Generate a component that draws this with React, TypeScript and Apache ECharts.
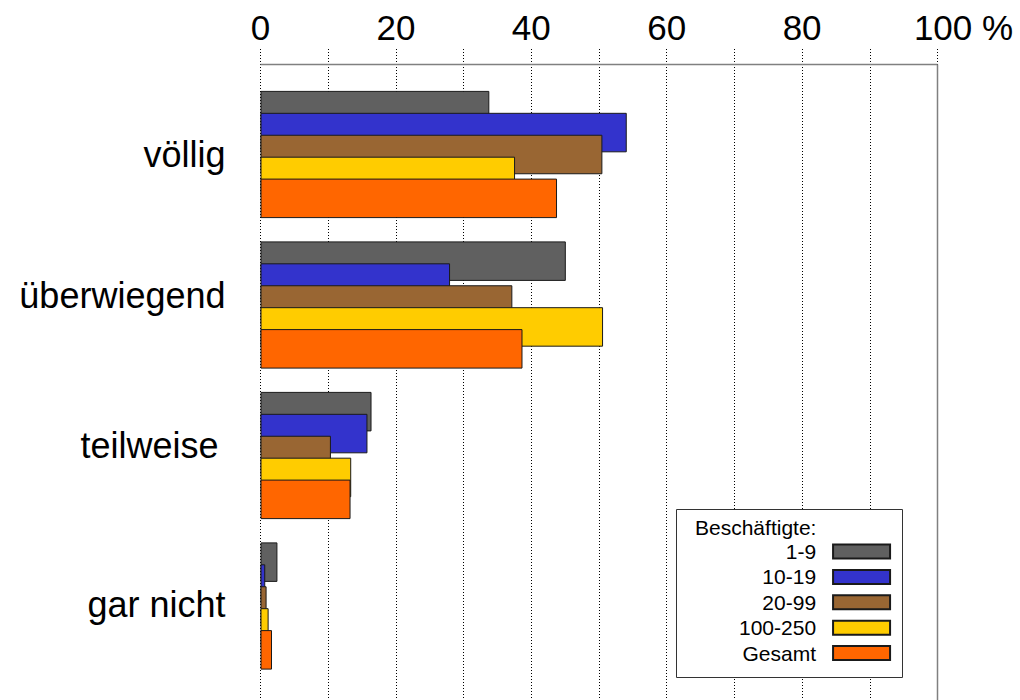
import React, { useEffect, useRef } from "react";
import * as echarts from "echarts";

const categories = ["völlig", "überwiegend", "teilweise", "gar nicht"];
const seriesNames = ["1-9", "10-19", "20-99", "100-250", "Gesamt"];
const values1to9 = [33.8, 45.1, 16.4, 2.5];
const values10to19 = [54.1, 28.0, 15.8, 0.7];
const values20to99 = [50.5, 37.2, 10.4, 0.9];
const values100to250 = [37.6, 50.6, 13.4, 1.2];
const valuesGesamt = [43.8, 38.7, 13.3, 1.7];
const seriesValues = [values1to9, values10to19, values20to99, values100to250, valuesGesamt];
const seriesColors = ["#606060", "#3333cc", "#996633", "#ffcc00", "#ff6600"];
const xTicks = [0, 20, 40, 60, 80, 100];
const legendTitle = "Beschäftigte:";

const FONT = "'Liberation Sans', Arial, Helvetica, sans-serif";

export default function App() {
  const ref = useRef<HTMLDivElement>(null);
  useEffect(() => {
    document.body.style.margin = "0";
    const chart = echarts.init(ref.current!, null, { renderer: "svg" });
    const left = 260.5;
    const right = 1020 - 937.5;
    const catStyle = { fontSize: 36, color: "#000", fontFamily: FONT };
    chart.setOption({
      animation: false,
      backgroundColor: "#ffffff",
      textStyle: { fontFamily: FONT },
      grid: [
        { left, right, top: 79.25, height: 602, containLabel: false },
        { left, right, top: 49, height: 700, containLabel: false },
      ],
      xAxis: [
        { type: "value", gridIndex: 0, min: 0, max: 100, show: false },
        {
          type: "value",
          gridIndex: 1,
          position: "top",
          min: 0,
          max: 100,
          interval: 10,
          axisLine: { show: false },
          axisTick: { show: false },
          splitLine: { show: true, lineStyle: { type: [1, 2], color: "#000", width: 1 } },
          axisLabel: {
            show: true,
            margin: 4,
            fontSize: 35,
            color: "#000",
            fontFamily: FONT,
            formatter: (v: number) => {
              if (!xTicks.includes(v)) return "";
              if (v === 100) return "{t|100 %}";
              return String(v);
            },
            rich: { t: { fontSize: 35, color: "#000", fontFamily: FONT, padding: [0, 0, 0, 52] } },
          },
        },
      ],
      yAxis: [
        {
          type: "category",
          gridIndex: 0,
          data: categories,
          inverse: true,
          axisLine: { show: false },
          axisTick: { show: false },
          splitLine: { show: false },
          axisLabel: {
            ...catStyle,
            margin: 35,
            formatter: (v: string, i: number) => `{c${i}|${v}}`,
            rich: {
              c0: { ...catStyle, padding: [0, 0, 0, 0] },
              c1: { ...catStyle, padding: [0, 0, 20, 0] },
              c2: { ...catStyle, padding: [0, 7, 20, 0] },
              c3: { ...catStyle, padding: [0, 0, 4, 0] },
            },
          },
        },
        { type: "value", gridIndex: 1, show: false, min: 0, max: 1 },
      ],
      legend: {
        data: seriesNames,
        orient: "vertical",
        left: 739,
        top: 541,
        padding: 0,
        itemWidth: 57,
        itemHeight: 14,
        itemGap: 4.4,
        align: "right",
        icon: "rect",
        selectedMode: false,
        z: 20,
        textStyle: { fontSize: 21, color: "#000", fontFamily: FONT, padding: [0, 12, 0, 0], lineHeight: 21 },
      },
      graphic: [
        {
          type: "line",
          z: 5,
          shape: { x1: 260.5, y1: 64.5, x2: 937.5, y2: 64.5 },
          style: { stroke: "#808080", lineWidth: 1.5 },
        },
        {
          type: "line",
          z: 5,
          shape: { x1: 937.5, y1: 64.5, x2: 937.5, y2: 700 },
          style: { stroke: "#808080", lineWidth: 1.5 },
        },
        {
          type: "rect",
          z: 10,
          shape: { x: 676.5, y: 509.5, width: 226, height: 168 },
          style: { fill: "#ffffff", stroke: "#333333", lineWidth: 1 },
        },
        {
          type: "text",
          z: 11,
          x: 695,
          y: 527,
          style: { text: legendTitle, fontSize: 21, fontFamily: FONT, fill: "#000", verticalAlign: "middle" },
        },
      ],
      series: seriesNames.map((name, i) => ({
        name,
        type: "bar",
        xAxisIndex: 0,
        yAxisIndex: 0,
        data: seriesValues[i],
        barWidth: 39.5,
        barGap: "-44.5%",
        itemStyle: { color: seriesColors[i], borderColor: "#1a1a1a", borderWidth: 1 },
      })),
    });
    return () => chart.dispose();
  }, []);
  return <div ref={ref} style={{ width: 1020, height: 700 }} />;
}
